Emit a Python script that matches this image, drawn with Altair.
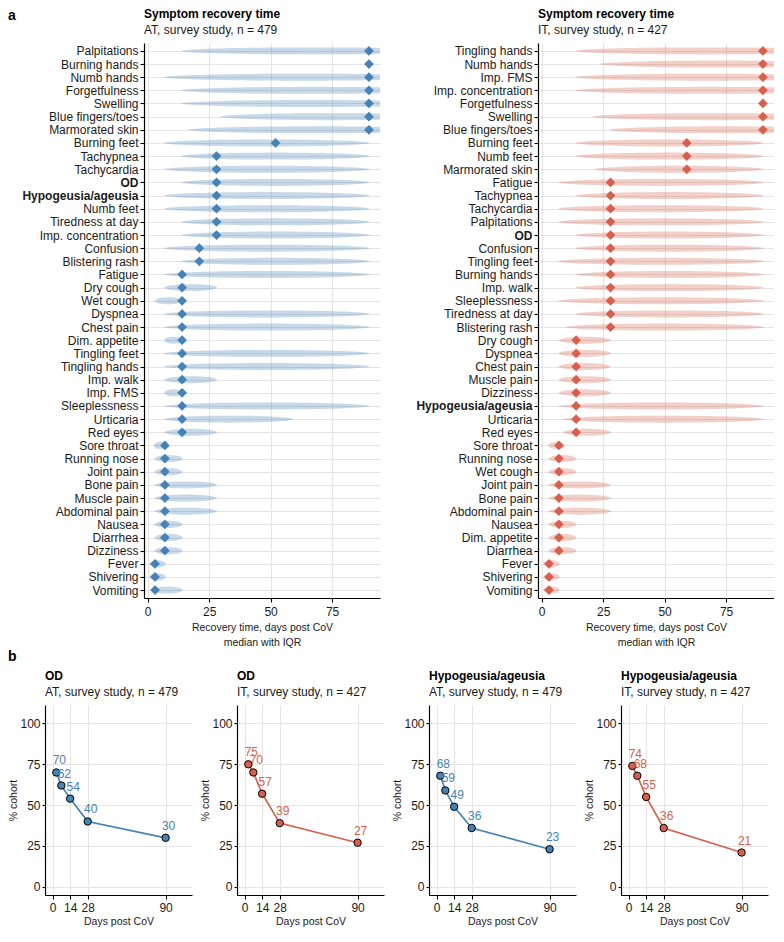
import altair as alt
import pandas as pd
import numpy as np

FONT = "Liberation Sans"
BLUE = "#4682b4"
RED = "#d6604d"

# ---------------- panel a: AT ----------------
AT_SYMPTOMS = ["Palpitations", "Burning hands", "Numb hands", "Forgetfulness", "Swelling",
               "Blue fingers/toes", "Marmorated skin", "Burning feet", "Tachypnea", "Tachycardia",
               "OD", "Hypogeusia/ageusia", "Numb feet", "Tiredness at day", "Imp. concentration",
               "Confusion", "Blistering rash", "Fatigue", "Dry cough", "Wet cough", "Dyspnea",
               "Chest pain", "Dim. appetite", "Tingling feet", "Tingling hands", "Imp. walk",
               "Imp. FMS", "Sleeplessness", "Urticaria", "Red eyes", "Sore throat", "Running nose",
               "Joint pain", "Bone pain", "Muscle pain", "Abdominal pain", "Nausea", "Diarrhea",
               "Dizziness", "Fever", "Shivering", "Vomiting"]
AT_MEDIAN = [90, 90, 90, 90, 90, 90, 90, 52, 28, 28, 28, 28, 28, 28, 28, 21, 21, 14, 14, 14, 14,
             14, 14, 14, 14, 14, 14, 14, 14, 14, 7, 7, 7, 7, 7, 7, 7, 7, 7, 3, 3, 3]
AT_Q1 = [14, 90, 7, 14, 14, 30, 17, 7, 14, 7, 14, 7, 7, 14, 14, 7, 14, 7, 7, 3, 7,
         7, 7, 7, 7, 7, 7, 7, 7, 7, 3, 3, 3, 3, 3, 3, 3, 3, 3, 1, 1, 2]
AT_Q3 = [120, 90, 120, 120, 120, 120, 120, 90, 90, 90, 90, 90, 90, 90, 90, 90, 90, 90, 28, 14, 90,
         90, 14, 90, 90, 28, 14, 90, 59, 28, 7, 14, 14, 28, 28, 28, 14, 14, 14, 7, 7, 14]

# ---------------- panel a: IT ----------------
IT_SYMPTOMS = ["Tingling hands", "Numb hands", "Imp. FMS", "Imp. concentration", "Forgetfulness",
               "Swelling", "Blue fingers/toes", "Burning feet", "Numb feet", "Marmorated skin",
               "Fatigue", "Tachypnea", "Tachycardia", "Palpitations", "OD", "Confusion",
               "Tingling feet", "Burning hands", "Imp. walk", "Sleeplessness", "Tiredness at day",
               "Blistering rash", "Dry cough", "Dyspnea", "Chest pain", "Muscle pain", "Dizziness",
               "Hypogeusia/ageusia", "Urticaria", "Red eyes", "Sore throat", "Running nose",
               "Wet cough", "Joint pain", "Bone pain", "Abdominal pain", "Nausea", "Dim. appetite",
               "Diarrhea", "Fever", "Shivering", "Vomiting"]
IT_MEDIAN = [90, 90, 90, 90, 90, 90, 90, 59, 59, 59, 28, 28, 28, 28, 28, 28, 28, 28, 28, 28, 28,
             28, 14, 14, 14, 14, 14, 14, 14, 14, 7, 7, 7, 7, 7, 7, 7, 7, 7, 3, 3, 3]
IT_Q1 = [14, 24, 14, 14, 90, 21, 28, 14, 14, 22, 7, 14, 7, 7, 14, 14, 7, 14, 14, 7, 14,
         10, 7, 7, 7, 7, 7, 7, 9, 9, 3, 3, 3, 3, 3, 3, 3, 3, 3, 1, 1, 1]
IT_Q3 = [120, 120, 120, 120, 90, 120, 120, 90, 90, 90, 90, 90, 90, 90, 90, 90, 90, 90, 90, 90, 90,
         90, 28, 28, 28, 28, 28, 90, 90, 28, 9, 14, 14, 28, 28, 28, 14, 14, 14, 7, 7, 7]

# ---------------- panel b ----------------
DAYS = [3, 7, 14, 28, 90]
OD_AT = [70, 62, 54, 40, 30]
OD_IT = [75, 70, 57, 39, 27]
HYP_AT = [68, 59, 49, 36, 23]
HYP_IT = [74, 68, 55, 36, 21]

X_TICKS = [0, 25, 50, 75]
DAY_TICKS = [0, 14, 28, 90]
PCT_TICKS = [0, 25, 50, 75, 100]

X_MIN, X_MAX = -1.5, 94.5
LENS_T = np.linspace(-1, 1, 41)
LENS_W = 7.0
GRID = "#e4e4e4"
TXT = "#1a1a1a"
FS = 12
FS_TITLE = 10.5


def lens_frame(symptoms, q1, q3):
    """Outline of the IQR lens: points along [q1, q3], cut at the panel edge."""
    rows = []
    for s, lo, hi in zip(symptoms, q1, q3):
        if hi <= lo:
            continue
        mid = (lo + hi) / 2.0
        half = (hi - lo) / 2.0
        for i, t in enumerate(LENS_T):
            x = mid + t * half
            if x > X_MAX:
                te = (X_MAX - mid) / half
                rows.append({"symptom": s, "x": X_MAX,
                             "w": LENS_W * float(np.sqrt(max(0.0, 1 - te * te))), "i": i})
                break
            rows.append({"symptom": s, "x": x,
                         "w": LENS_W * float(np.sqrt(max(0.0, 1 - t * t))), "i": i})
    return pd.DataFrame(rows)


def top_x(field):
    return alt.X(f"{field}:Q",
                 scale=alt.Scale(domain=[X_MIN, X_MAX], nice=False, zero=False),
                 axis=alt.Axis(values=X_TICKS, title=["Recovery time, days post CoV", "median with IQR"],
                               grid=True, gridColor=GRID, gridWidth=1.1,
                               domainColor="black", domainWidth=1.2, tickColor="black",
                               tickSize=4, tickWidth=1.1, labelPadding=4, titlePadding=5,
                               labelFontSize=FS, titleFontSize=FS_TITLE, titleFontWeight="normal",
                               titleLineHeight=15, labelColor=TXT, titleColor=TXT))


def top_y(symptoms):
    return alt.Y("symptom:N",
                 scale=alt.Scale(type="point", domain=symptoms, padding=0.6),
                 axis=alt.Axis(title=None, grid=True, gridColor=GRID, gridWidth=1.1,
                               domainColor="black", domainWidth=1.2, tickColor="black",
                               tickSize=4, tickWidth=1.1, labelPadding=2, labelFontSize=FS,
                               labelColor=TXT, labelLimit=300,
                               labelFontWeight={"expr": "datum.value == 'OD' || datum.value == 'Hypogeusia/ageusia' ? 'bold' : 'normal'"}))


def panel_title(text, subtitle):
    return alt.TitleParams(text=text, subtitle=subtitle, anchor="start", frame="group",
                           fontSize=FS, fontWeight="bold", subtitleFontSize=FS,
                           subtitleFont=FONT, font=FONT, color="black", subtitleColor=TXT,
                           subtitlePadding=4, offset=6)


def top_panel(symptoms, med, q1, q3, color, subtitle):
    lens_df = lens_frame(symptoms, q1, q3)
    med_df = pd.DataFrame({"symptom": symptoms, "median": med})
    y = top_y(symptoms)
    lens = alt.Chart(lens_df).mark_trail(color=color, opacity=0.3, clip=True).encode(
        x=top_x("x"), y=y, size=alt.Size("w:Q", scale=None, legend=None),
        detail="symptom:N", order="i:Q")
    pts = alt.Chart(med_df).mark_point(shape="diamond", filled=True, size=95, color=color,
                                       opacity=1).encode(x=top_x("median"), y=y)
    return alt.layer(lens, pts).properties(
        width=236, height=555, title=panel_title("Symptom recovery time", subtitle))


def letter_chart(letter, y, h):
    return alt.Chart(pd.DataFrame({"t": [letter]})).mark_text(
        align="left", baseline="middle", fontSize=14, fontWeight="bold", font=FONT,
        color="black").encode(x=alt.value(0), y=alt.value(y), text="t:N").properties(
        width=1, height=h)


def bottom_panel(title, subtitle, values, color):
    df = pd.DataFrame({"day": DAYS, "pct": values})
    x = alt.X("day:Q", scale=alt.Scale(domain=[-6, 111], nice=False, zero=False),
              axis=alt.Axis(values=DAY_TICKS, title="Days post CoV", labelOverlap=False,
                            grid=True, gridColor=GRID, gridWidth=1.1, domainColor="black",
                            domainWidth=1.2, tickColor="black", tickSize=4, tickWidth=1.1,
                            labelPadding=3, titlePadding=3, labelFontSize=FS,
                            titleFontSize=FS_TITLE, titleFontWeight="normal", labelColor=TXT,
                            titleColor=TXT))
    y = alt.Y("pct:Q", scale=alt.Scale(domain=[-5, 111.3], nice=False, zero=False),
              axis=alt.Axis(values=PCT_TICKS, title="% cohort", grid=True, gridColor=GRID,
                            gridWidth=1.1, domainColor="black", domainWidth=1.2,
                            tickColor="black", tickSize=3, tickWidth=1.1, labelPadding=2,
                            titlePadding=2, labelFontSize=FS, titleFontSize=FS_TITLE,
                            titleFontWeight="normal", labelColor=TXT, titleColor=TXT,
                            minExtent=25, maxExtent=25))
    base = alt.Chart(df).encode(x=x, y=y)
    line = base.mark_line(color=color, strokeWidth=1.7)
    pts = base.mark_point(filled=True, fill=color, stroke="black", strokeWidth=1, size=55,
                          opacity=1)
    txt = base.mark_text(dx=3, dy=-12, color=color, fontSize=FS, font=FONT).encode(
        text=alt.Text("pct:Q", format="d"))
    return alt.layer(line, pts, txt).properties(
        width=147, height=190, title=panel_title(title, subtitle))


top = alt.hconcat(
    letter_chart("a", -27, 555),
    alt.hconcat(
        top_panel(AT_SYMPTOMS, AT_MEDIAN, AT_Q1, AT_Q3, BLUE, "AT, survey study, n = 479"),
        top_panel(IT_SYMPTOMS, IT_MEDIAN, IT_Q1, IT_Q3, RED, "IT, survey study, n = 427"),
        spacing=35),
    spacing=5)

bottom = alt.hconcat(
    letter_chart("b", -48, 190),
    alt.hconcat(
        bottom_panel("OD", "AT, survey study, n = 479", OD_AT, BLUE),
        bottom_panel("OD", "IT, survey study, n = 427", OD_IT, RED),
        bottom_panel("Hypogeusia/ageusia", "AT, survey study, n = 479", HYP_AT, BLUE),
        bottom_panel("Hypogeusia/ageusia", "IT, survey study, n = 427", HYP_IT, RED),
        spacing=8),
    spacing=-9)

chart = alt.vconcat(top, bottom, spacing=2).properties(
    padding={"left": 0, "top": 0, "right": 0, "bottom": 0}
).configure(font=FONT).configure_view(strokeWidth=0, stroke="transparent").configure_axis(
    labelFont=FONT, titleFont=FONT)

chart.save("out.html", embed_options={"renderer": "svg", "actions": False})
